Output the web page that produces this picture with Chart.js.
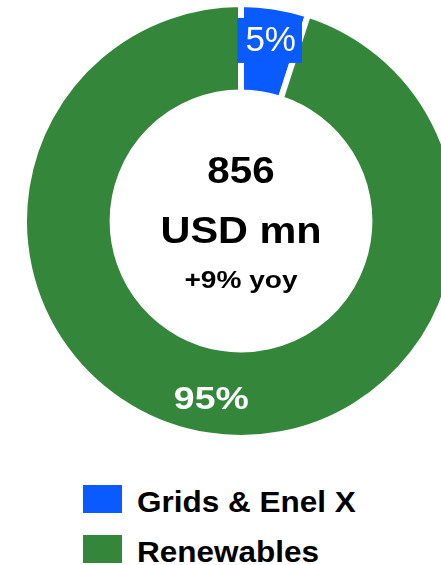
<!DOCTYPE html>
<html>
<head>
<meta charset="utf-8">
<script src="https://cdn.jsdelivr.net/npm/chart.js@4"></script>
<style>
  html, body { margin: 0; padding: 0; background: #fff; overflow: hidden; width: 441px; height: 565px; }
  #wrap { position: absolute; left: 0; top: 0; width: 482px; height: 442px; }
  .legend { position: absolute; left: 83px; top: 485px; font-family: "Liberation Sans", Arial, sans-serif; font-weight: bold; font-size: 30px; color: #000; }
  .legend .row { display: flex; align-items: flex-end; height: 28px; margin-bottom: 22px; }
  .legend .box { width: 39px; height: 28px; margin-right: 15px; flex: none; }
  .legend .txt { line-height: 28px; position: relative; top: 3px; white-space: nowrap; transform: scaleX(1.05); transform-origin: left center; }
</style>
</head>
<body>
<div id="wrap"><canvas id="myChart" width="482" height="442"></canvas></div>
<div class="legend" id="legend"></div>
<script>
// chart data
const segments = ["Grids & Enel X", "Renewables"];
const shares = [5, 95];
const segColors = ["#0A5BFF", "#34863B"];
const centerLines = ["856", "USD mn", "+9% yoy"];

// html legend from the same arrays
const legendEl = document.getElementById('legend');
segments.forEach(function (name, i) {
  const row = document.createElement('div');
  row.className = 'row';
  row.innerHTML = '<div class="box" style="background:' + segColors[i] + '"></div><div class="txt"></div>';
  row.querySelector('.txt').textContent = name;
  legendEl.appendChild(row);
});

const FONT = '"Liberation Sans", Arial, sans-serif';

// percent labels on the arcs
const arcLabels = {
  id: 'arcLabels',
  afterDatasetsDraw(chart) {
    const ctx = chart.ctx;
    const meta = chart.getDatasetMeta(0);
    meta.data.forEach(function (arc, i) {
      const p = arc.getProps(['x', 'y', 'startAngle', 'endAngle', 'innerRadius', 'outerRadius'], true);
      const mid = (p.startAngle + p.endAngle) / 2;
      const r = p.innerRadius + 0.62 * (p.outerRadius - p.innerRadius);
      const x = p.x + Math.cos(mid) * r;
      const y = p.y + Math.sin(mid) * r;
      const txt = shares[i] + '%';
      ctx.save();
      if (i === 0) {
        ctx.font = '500 35px ' + FONT;
        const w = ctx.measureText(txt).width;
        ctx.fillStyle = segColors[0];
        ctx.fillRect(x - w / 2 - 7, y - 22, w + 14, 45);
        ctx.fillStyle = '#fff';
        ctx.textAlign = 'center';
        ctx.textBaseline = 'middle';
        ctx.fillText(txt, x + 1, y + 1);
      } else {
        ctx.font = 'bold 32px ' + FONT;
        ctx.fillStyle = '#fff';
        ctx.textAlign = 'center';
        ctx.textBaseline = 'middle';
        ctx.translate(x - 1, y - 2);
        ctx.scale(1.17, 1);
        ctx.fillText(txt, 0, 0);
      }
      ctx.restore();
    });
  }
};

// text in the hole
const centerText = {
  id: 'centerText',
  afterDraw(chart) {
    const ctx = chart.ctx;
    const meta = chart.getDatasetMeta(0);
    const cx = meta.data[0].x;
    const cy = meta.data[0].y;
    const specs = [
      { size: 36, dy: -38, sx: 1.12 },
      { size: 36, dy: 22, sx: 1.15 },
      { size: 24, dy: 67, sx: 1.17 }
    ];
    ctx.save();
    ctx.fillStyle = '#000';
    ctx.textAlign = 'center';
    ctx.textBaseline = 'alphabetic';
    centerLines.forEach(function (line, i) {
      ctx.save();
      ctx.font = 'bold ' + specs[i].size + 'px ' + FONT;
      ctx.translate(cx, cy + specs[i].dy);
      ctx.scale(specs[i].sx, 1);
      ctx.fillText(line, 0, 0);
      ctx.restore();
    });
    ctx.restore();
  }
};

const myChart = document.getElementById('myChart');
new Chart(myChart, {
  type: 'doughnut',
  data: {
    labels: segments,
    datasets: [{
      data: shares,
      backgroundColor: segColors,
      borderColor: '#ffffff',
      borderWidth: 6,
      hoverOffset: 0
    }]
  },
  options: {
    responsive: false,
    animation: false,
    radius: 217,
    cutout: 129,
    layout: { padding: 0 },
    plugins: {
      legend: { display: false },
      tooltip: { enabled: false }
    }
  },
  plugins: [arcLabels, centerText]
});
</script>
</body>
</html>
